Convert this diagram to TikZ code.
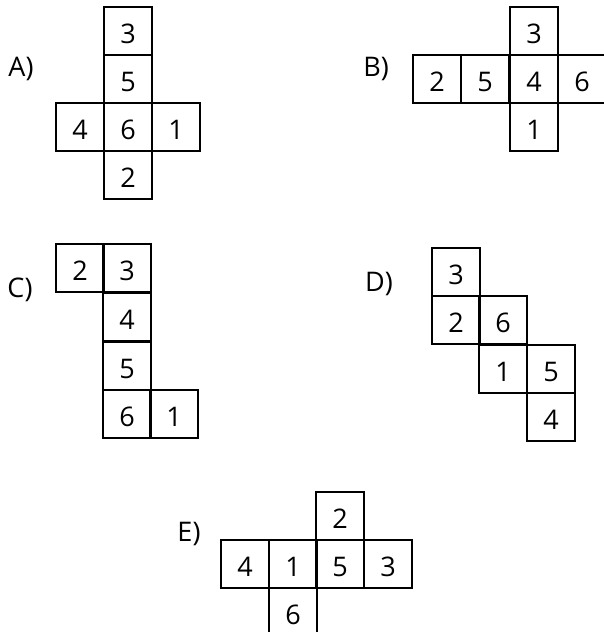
\documentclass[tikz,border=0pt]{standalone}
\usepackage{fontspec}
\setmainfont{Open Sans}
\begin{document}
\begin{tikzpicture}[x=1pt,y=-1pt,
  cellbox/.style={draw, line width=1.1pt, minimum width=48pt, minimum height=48pt,
    inner sep=0pt, text height=25pt, text depth=0pt, font=\fontsize{27}{27}\selectfont},
  lab/.style={inner sep=0pt, font=\fontsize{27}{27}\selectfont}]
\useasboundingbox (0,0) rectangle (604,632);
\fill[white] (0,0) rectangle (604,632);
\clip (0,0) rectangle (604,632);
% A
\node[lab] (la) at (21,69) {A)};
\node[cellbox] (a3) at (128,31) {3};
\node[cellbox] (a5) at (128,79) {5};
\node[cellbox] (a4) at (80,127) {4};
\node[cellbox] (a6) at (128,127) {6};
\node[cellbox] (a1) at (176,127) {1};
\node[cellbox] (a2) at (128,175) {2};
% B
\node[lab] (lb) at (376,69) {B)};
\node[cellbox] (b3) at (534,31) {3};
\node[cellbox] (b2) at (437,79) {2};
\node[cellbox] (b5) at (485,79) {5};
\node[cellbox] (b4) at (534,79) {4};
\node[cellbox] (b6) at (582,79) {6};
\node[cellbox] (b1) at (534,127) {1};
% C
\node[lab] (lc) at (20,290) {C)};
\node[cellbox] (c2) at (80,268) {2};
\node[cellbox] (c3) at (127,268) {3};
\node[cellbox] (c4) at (127,317) {4};
\node[cellbox] (c5) at (127,366) {5};
\node[cellbox] (c6) at (127,414) {6};
\node[cellbox] (c1) at (174,414) {1};
% D
\node[lab] (ld) at (379,284) {D)};
\node[cellbox] (d3) at (456,272) {3};
\node[cellbox] (d2) at (456,320) {2};
\node[cellbox] (d6) at (503,320) {6};
\node[cellbox] (d1) at (503,369) {1};
\node[cellbox] (d5) at (551,369) {5};
\node[cellbox] (d4) at (551,417) {4};
% E
\node[lab] (le) at (189,534) {E)};
\node[cellbox] (e2) at (340,516) {2};
\node[cellbox] (e4) at (245,564) {4};
\node[cellbox] (e1) at (293,564) {1};
\node[cellbox] (e5) at (340,564) {5};
\node[cellbox] (e3) at (388,564) {3};
\node[cellbox] (e6) at (293,612) {6};
\end{tikzpicture}
\end{document}
